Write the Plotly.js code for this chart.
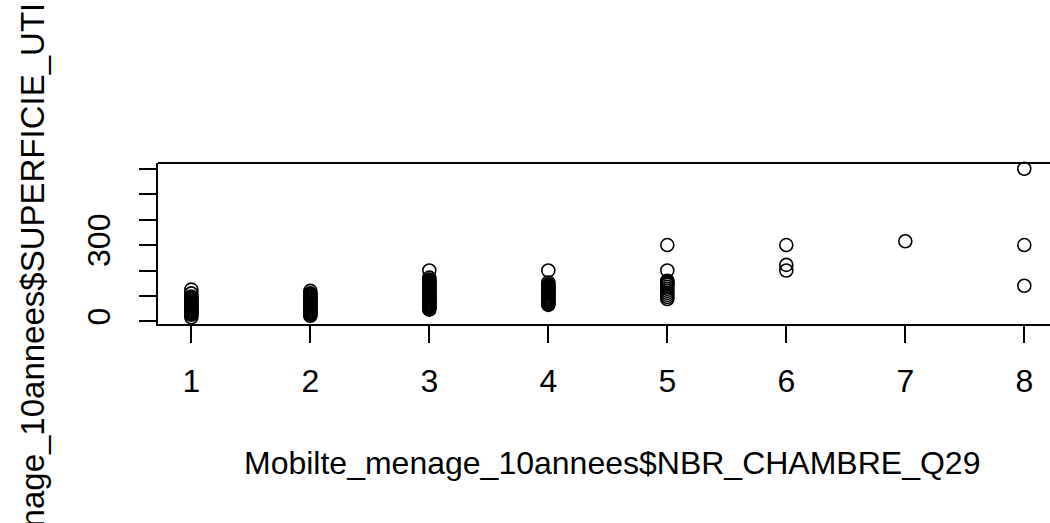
<!DOCTYPE html>
<html>
<head>
<meta charset="utf-8">
<script src="https://cdn.plot.ly/plotly-3.0.1.min.js"></script>
<style>html,body{margin:0;padding:0;background:#fff;overflow:hidden}#chart{width:1050px;height:523px}</style>
</head>
<body>
<div id="chart"></div>
<script>
// Number of bedrooms (x) and useful surface (y), one array per bedroom group
const rooms1 = [125, 110, 98, 94, 90, 86, 82, 78, 74, 70, 66, 62, 58, 54, 50, 46, 42, 38, 34, 30, 26, 16];
const rooms2 = [120, 110, 106, 102, 98, 94, 90, 86, 82, 78, 74, 70, 66, 62, 58, 54, 50, 46, 42, 38, 34, 30, 26, 22];
const rooms3 = [200, 172, 164, 160, 156, 152, 148, 144, 140, 136, 132, 128, 124, 120, 116, 110, 106, 102, 98, 94, 90, 86, 82, 78, 74, 70, 66, 62, 58, 54, 50, 46];
const rooms4 = [200, 153, 145, 141, 137, 133, 129, 125, 121, 117, 113, 109, 105, 101, 97, 93, 89, 85, 81, 77, 73, 69, 65];
const rooms5 = [300, 200, 160, 156, 152, 148, 144, 136, 128, 120, 112, 104, 96, 88];
const rooms6 = [300, 222, 200];
const rooms7 = [315];
const rooms8 = [600, 300, 140];
const groups = [1, 2, 3, 4, 5, 6, 7, 8];
const yTickVals = [0, 100, 200, 300, 400, 500, 600];
const yTickText = ['0', '', '', '300', '', '', ''];
const xTitle = 'Mobilte_menage_10annees$NBR_CHAMBRE_Q29';
const yTitle = 'Mobilte_menage_10annees$SUPERFICIE_UTILE';

const allY = [rooms1, rooms2, rooms3, rooms4, rooms5, rooms6, rooms7, rooms8];
const xs = [], ys = [];
allY.forEach((arr, i) => arr.forEach(v => { xs.push(groups[i]); ys.push(v); }));

const FONT = 'Liberation Sans, Arial, sans-serif';
const FS = 32;
const trace = {
  x: xs, y: ys, type: 'scatter', mode: 'markers',
  marker: {symbol: 'circle-open', size: 13, color: '#000', line: {width: 1.6, color: '#000'}},
  hoverinfo: 'x+y', cliponaxis: false
};
// plot area: left 158, top 163, width 892, height 161
const PL = 158, PT = 163, PW = 892, PH = 161;
const px2x = p => (p - PL) / PW;
const py2y = p => (PT + PH - p) / PH;
const layout = {
  width: 1050, height: 523,
  margin: {l: PL, r: 1050 - PL - PW, t: PT, b: 523 - PT - PH, pad: 0},
  paper_bgcolor: '#fff', plot_bgcolor: '#fff',
  showlegend: false,
  font: {family: FONT, color: '#000', size: FS},
  xaxis: {
    range: [0.72, 8.216], tickvals: groups, ticktext: groups.map(String),
    showgrid: false, zeroline: false, showline: true, linecolor: '#000', linewidth: 2,
    ticks: 'outside', ticklen: 17, tickwidth: 2, tickcolor: '#000',
    tickfont: {family: FONT, size: FS, color: '#000'}, ticklabelstandoff: 11
  },
  yaxis: {
    range: [-10.2, 622.5], tickvals: yTickVals, ticktext: yTickText, tickangle: -90,
    showgrid: false, zeroline: false, showline: true, linecolor: '#000', linewidth: 2,
    ticks: 'outside', ticklen: 17, tickwidth: 2, tickcolor: '#000',
    tickfont: {family: FONT, size: FS, color: '#000'}, ticklabelstandoff: 16
  },
  annotations: [
    {text: xTitle, xref: 'paper', yref: 'paper', x: px2x(612), y: py2y(463),
     xanchor: 'center', yanchor: 'middle', showarrow: false, font: {family: FONT, size: FS, color: '#000'}},
    {text: yTitle, xref: 'paper', yref: 'paper', x: px2x(32), y: py2y(330), textangle: -90,
     xanchor: 'center', yanchor: 'middle', showarrow: false, font: {family: FONT, size: 33, color: '#000'}}
  ],
  shapes: [{type: 'line', xref: 'paper', yref: 'paper', x0: 0, x1: 1, y0: 1, y1: 1, line: {color: '#000', width: 2}}]
};
Plotly.newPlot('chart', [trace], layout, {displayModeBar: false, staticPlot: true});
</script>
</body>
</html>
